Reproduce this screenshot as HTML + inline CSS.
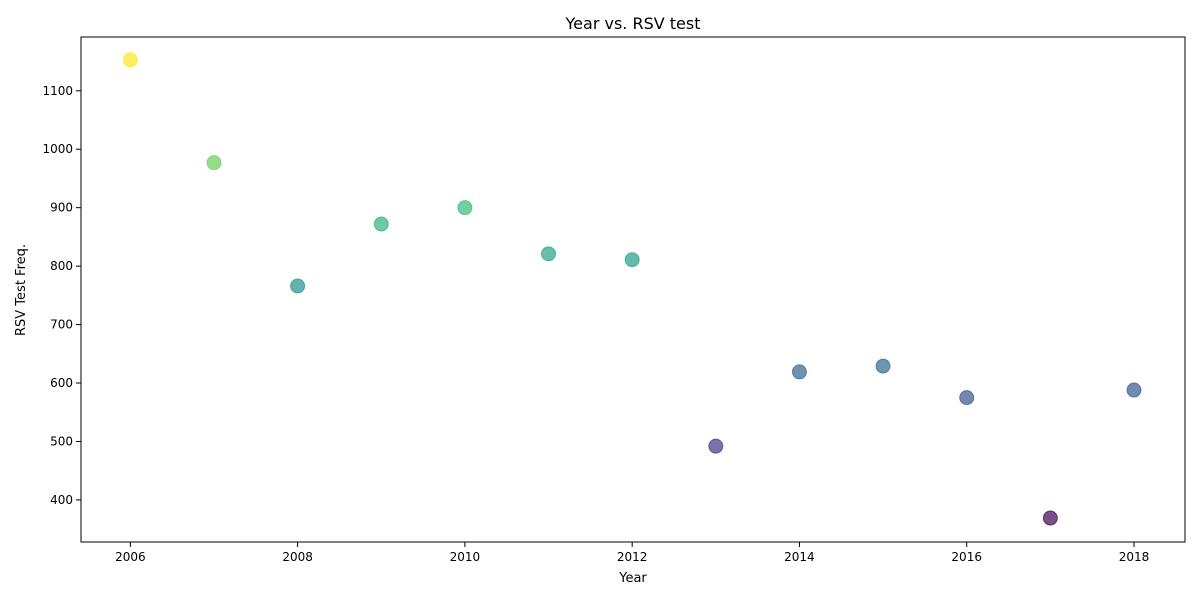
<!DOCTYPE html>
<html><head><meta charset="utf-8"><style>
body{margin:0;background:#fff;}
svg{display:block;font-family:"DejaVu Sans","Liberation Sans",sans-serif;}
</style></head><body>
<svg id="chart" width="1200" height="600">
<rect x="0" y="0" width="1200" height="600" fill="#fff"/>
<text x="633" y="29" font-size="16" text-anchor="middle">Year vs. RSV test</text>
<text x="633" y="582" font-size="13" text-anchor="middle">Year</text>
<text transform="translate(25,290) rotate(-90)" font-size="13" text-anchor="middle">RSV Test Freq.</text>
<g id="marks"></g>
<g id="axes"></g>
</svg>
<script>
const years = [2006,2007,2008,2009,2010,2011,2012,2013,2014,2015,2016,2017,2018];
const values = [1153,977,766,872,900,821,811,492,619,629,575,369,588];
const xTicks = [2006,2008,2010,2012,2014,2016,2018];
const yTicks = [400,500,600,700,800,900,1000,1100];

const L=81,R=1185,T=37,B=542;
const xMin=2005.41,xMax=2018.61,yMin=328,yMax=1192;
function xs(v){return L+(v-xMin)/(xMax-xMin)*(R-L);}
function ys(v){return B-(v-yMin)/(yMax-yMin)*(B-T);}
const vir=[[68,1,84],[72,40,120],[62,74,137],[49,104,142],[38,130,142],[31,158,137],[53,183,121],[109,205,89],[180,222,44],[253,231,37]];
function viridis(t){t=Math.max(0,Math.min(1,t));const p=t*(vir.length-1);const i=Math.min(Math.floor(p),vir.length-2);const f=p-i;
const c=vir[i].map((a,k)=>Math.round(a+(vir[i+1][k]-a)*f));return `rgb(${c[0]},${c[1]},${c[2]})`;}
const NS="http://www.w3.org/2000/svg";
const marks=document.getElementById('marks'),axes=document.getElementById('axes');
const vmin=Math.min(...values),vmax=Math.max(...values);
years.forEach((yr,i)=>{
 const c=document.createElementNS(NS,'circle');
 c.setAttribute('cx',xs(yr));c.setAttribute('cy',ys(values[i]));c.setAttribute('r',7);
 c.setAttribute('fill',viridis((values[i]-vmin)/(vmax-vmin)));c.setAttribute('fill-opacity',0.7);
 c.setAttribute('stroke',viridis((values[i]-vmin)/(vmax-vmin)));c.setAttribute('stroke-opacity',0.7);
 
 
 marks.appendChild(c);
});
const frame=document.createElementNS(NS,'rect');
frame.setAttribute('x',L);frame.setAttribute('y',T);frame.setAttribute('width',R-L);frame.setAttribute('height',B-T);
frame.setAttribute('fill','none');frame.setAttribute('stroke','#000');frame.setAttribute('stroke-width',1);


axes.appendChild(frame);
xTicks.forEach(v=>{
 const x=xs(v);
 const l=document.createElementNS(NS,'line');l.setAttribute('x1',x);l.setAttribute('x2',x);l.setAttribute('y1',B);l.setAttribute('y2',B+5);l.setAttribute('stroke','#000');
 
 
 axes.appendChild(l);
 const t=document.createElementNS(NS,'text');t.setAttribute('x',x);t.setAttribute('y',B+19);t.setAttribute('font-size','12');t.setAttribute('text-anchor','middle');t.textContent=v;
 
 
 axes.appendChild(t);
});
yTicks.forEach(v=>{
 const y=ys(v);
 const l=document.createElementNS(NS,'line');l.setAttribute('x1',L-5);l.setAttribute('x2',L);l.setAttribute('y1',y);l.setAttribute('y2',y);l.setAttribute('stroke','#000');
 
 
 axes.appendChild(l);
 const t=document.createElementNS(NS,'text');t.setAttribute('x',L-8);t.setAttribute('y',y+4);t.setAttribute('font-size','12');t.setAttribute('text-anchor','end');t.textContent=v;
 
 
 axes.appendChild(t);
});
</script>
</body></html>
